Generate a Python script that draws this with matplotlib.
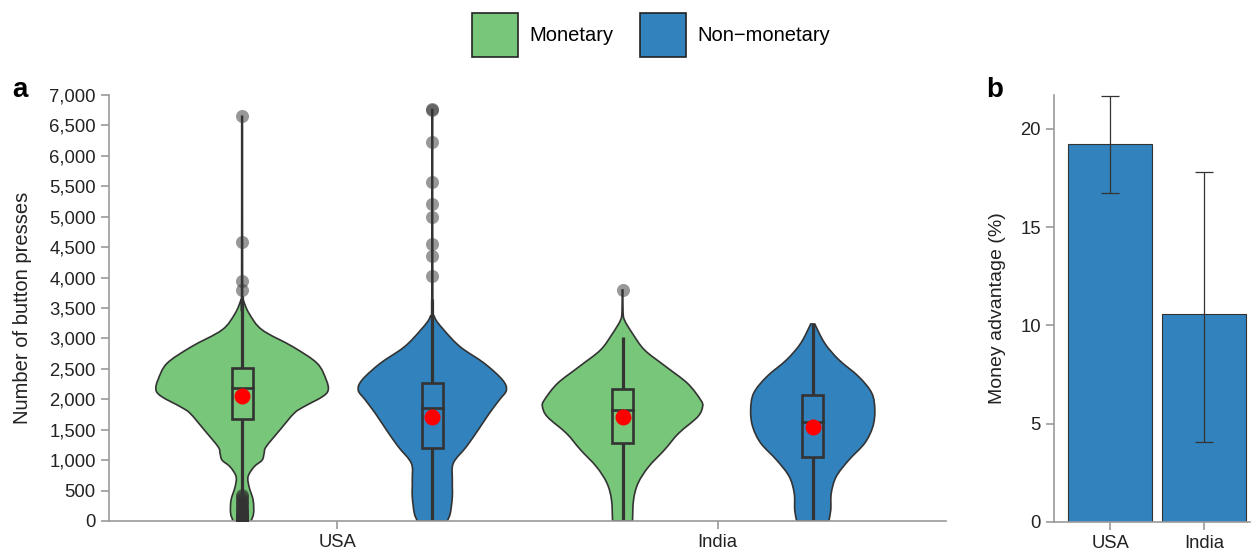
import matplotlib
matplotlib.use('Agg')
import numpy as np
import matplotlib.pyplot as plt
from matplotlib.patches import Patch, Rectangle, PathPatch
from matplotlib.path import Path

plt.rcParams['font.family'] = ['Liberation Sans', 'DejaVu Sans']

# ---- data ----
countries = ['USA', 'India']
conditions = ['Monetary', 'Non\u2212monetary']

# violin outlines: press counts and density (arbitrary units)
usa_mon_levels = [0, 130, 345, 560, 730, 890, 1000, 1110, 1220, 1500, 1770, 1880,
                  2040, 2150, 2320, 2590, 2860, 3140, 3410, 3630, 3700, 6650]
usa_mon_dens = [9, 11.5, 11, 7, 6, 12, 20, 22, 24, 38, 52, 62,
                80, 86, 84, 75, 51, 20, 7, 1.2, 0.5, 0.4]
usa_non_levels = [0, 130, 400, 675, 950, 1220, 1500, 1770, 1990, 2150, 2320, 2590,
                  2860, 3140, 3360, 3650, 6760]
usa_non_dens = [15, 18, 20, 20, 21, 34, 46, 57, 67, 74, 70, 52,
                28, 11.5, 2, 0.5, 0.4]
ind_mon_levels = [0, 345, 620, 890, 1170, 1440, 1710, 1880, 1990, 2260, 2540, 2810,
                  3080, 3300, 3450, 3795]
ind_mon_dens = [10, 11, 15.5, 26, 42, 56, 75, 80, 78, 65, 43, 22,
                10, 2, 0.5, 0.4]
ind_non_levels = [0, 180, 455, 730, 1000, 1280, 1550, 1820, 2100, 2370, 2650, 2920, 3237]
ind_non_dens = [16, 18, 18.5, 23.5, 36, 52, 60, 62, 59, 46, 26, 12, 2]

# box stats: q1, median, q3, lower whisker, upper whisker, mean
usa_mon_box = [1676, 2190, 2519, 440, 3690, 2054]
usa_non_box = [1205, 1851, 2273, 0, 3650, 1714]
ind_mon_box = [1276, 1824, 2169, 0, 3028, 1704]
ind_non_box = [1057, 1621, 2075, 0, 3237, 1540]

usa_mon_out = [3800, 3950, 4580, 6650,
               0, 0, 0, 10, 20, 30, 40, 50, 60, 75, 90, 100, 120, 140, 160, 180,
               200, 230, 260, 290, 320, 350, 380, 410, 430]
usa_non_out = [4025, 4360, 4550, 5000, 5210, 5575, 6235, 6755, 6765]
ind_mon_out = [3795]
ind_non_out = []

# panel b: money advantage (%) with 95% CI
adv = [19.24, 10.56]
adv_lo = [16.76, 4.04]
adv_hi = [21.70, 17.80]

green = '#78c679'
blue = '#3182bd'
dark = '#333333'
grey = '#9a9a9a'


def smooth_side(pts):
    # bezier segments through the outline points (catmull-rom style)
    verts = []
    n = len(pts)
    for i in range(n - 1):
        p0 = pts[max(i - 1, 0)]
        p1 = pts[i]
        p2 = pts[i + 1]
        p3 = pts[min(i + 2, n - 1)]
        c1 = p1 + (p2 - p0) / 6.0
        c2 = p2 - (p3 - p1) / 6.0
        verts += [c1, c2, p2]
    return verts


def violin_patch(x, levels, dens, color):
    lev = np.array(levels, dtype=float)
    w = np.array(dens, dtype=float) * violin_scale
    right = [np.array([x + wi, yi]) for wi, yi in zip(w, lev)]
    left = [np.array([x - wi, yi]) for wi, yi in zip(w[::-1], lev[::-1])]
    verts = [right[0]] + smooth_side(right) + [left[0]] + smooth_side(left) + [right[0]]
    codes = ([Path.MOVETO] + [Path.CURVE4] * (3 * (len(right) - 1)) + [Path.LINETO]
             + [Path.CURVE4] * (3 * (len(left) - 1)) + [Path.CLOSEPOLY])
    return PathPatch(Path(verts, codes), facecolor=color, edgecolor=dark,
                     linewidth=1.2, zorder=1)


fig = plt.figure(figsize=(12.58, 5.55), dpi=100)
ax = fig.add_axes([0.0866, 0.0613, 0.6653, 0.7676])
ax2 = fig.add_axes([0.8378, 0.0600, 0.1558, 0.7689])

violin_scale = 1 / 380.0
box_w = 0.055

groups = [
    (0 - 0.25, usa_mon_levels, usa_mon_dens, usa_mon_box, usa_mon_out, green),
    (0 + 0.25, usa_non_levels, usa_non_dens, usa_non_box, usa_non_out, blue),
    (1 - 0.25, ind_mon_levels, ind_mon_dens, ind_mon_box, ind_mon_out, green),
    (1 + 0.25, ind_non_levels, ind_non_dens, ind_non_box, ind_non_out, blue),
]

for x, lev, dens, box, out, col in groups:
    ax.add_patch(violin_patch(x, lev, dens, col))
    q1, med, q3, wlo, whi, mean = box
    ax.plot([x, x], [wlo, q1], color=dark, lw=2.3, solid_capstyle='butt', zorder=2)
    ax.plot([x, x], [q3, whi], color=dark, lw=2.3, solid_capstyle='butt', zorder=2)
    ax.add_patch(Rectangle((x - box_w / 2, q1), box_w, q3 - q1, facecolor=col,
                           edgecolor=dark, linewidth=1.9, zorder=3))
    ax.plot([x - box_w / 2, x + box_w / 2], [med, med], color=dark, lw=1.9, zorder=3)
    if len(out):
        ax.plot([x] * len(out), out, 'o', ms=9.4, color=dark, alpha=0.5,
                mec='none', zorder=4)
    ax.plot([x], [mean], 'o', ms=11.5, color='#ff0000', mec='none', zorder=5)

ax.set_xlim(-0.6, 1.6)
ax.set_ylim(0, 7000)
ax.set_xticks([0, 1])
ax.set_xticklabels(countries)
yt = np.arange(0, 7001, 500)
ax.set_yticks(yt)
ax.set_yticklabels(['{:,}'.format(v) for v in yt])
ax.set_ylabel('Number of button presses', fontsize=14.5, color='#222222', labelpad=12)

# panel b
xb = np.arange(len(countries))
ax2.bar(xb, adv, width=0.9, color=blue, edgecolor=dark, linewidth=0.8, zorder=1)
adv_a = np.array(adv)
yerr = [adv_a - np.array(adv_lo), np.array(adv_hi) - adv_a]
ax2.errorbar(xb, adv, yerr=yerr, fmt='none', ecolor=dark, elinewidth=0.9,
             capsize=6.5, capthick=0.9, zorder=2)
ax2.set_xlim(-0.6, 1.49)
ax2.set_ylim(0, 21.73)
ax2.set_xticks(xb)
ax2.set_xticklabels(countries)
ax2.set_yticks([0, 5, 10, 15, 20])
ax2.set_ylabel('Money advantage (%)', fontsize=14, color='#222222', labelpad=10)

for a in (ax, ax2):
    for s in ('top', 'right'):
        a.spines[s].set_visible(False)
    for s in ('left', 'bottom'):
        a.spines[s].set_color(grey)
        a.spines[s].set_linewidth(1.2)
    a.tick_params(colors=grey, labelcolor='#222222', labelsize=13.3, length=6, width=1.2)

fig.text(0.0095, 0.826, 'a', fontsize=20, fontweight='bold', color='black')
fig.text(0.784, 0.826, 'b', fontsize=20, fontweight='bold', color='black')

handles = [Patch(facecolor=green, edgecolor='#222222', linewidth=1.2),
           Patch(facecolor=blue, edgecolor='#222222', linewidth=1.2)]
fig.legend(handles, conditions, loc='center', bbox_to_anchor=(0.5175, 0.937),
           ncol=2, frameon=False, fontsize=14.5, handlelength=2.3, handleheight=3.0,
           handletextpad=0.55, columnspacing=1.3, borderpad=0)

fig.savefig('out.png', dpi=100)
